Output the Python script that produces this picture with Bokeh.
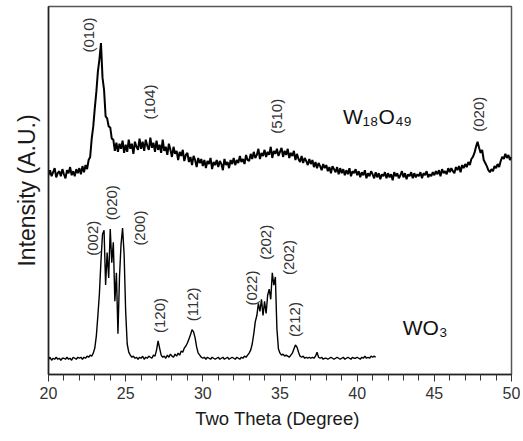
import numpy as np
from bokeh.plotting import figure
from bokeh.models import Range1d, FixedTicker, SingleIntervalTicker, ColumnDataSource, LabelSet
from bokeh.core.properties import value
from bokeh.embed import file_html
from bokeh.resources import INLINE

# ---- data (intensity in arbitrary units) ----
w18_start, w18_step = 20.0, 0.1
w18_y = [
    196, 201, 195, 199, 203, 194, 198, 200, 195, 202,
    197, 193, 201, 198, 204, 196, 200, 195, 202, 198,
    203, 197, 205, 199, 206, 202, 211, 214, 232, 244,
    262, 278, 298, 310, 326, 292, 280, 254, 252, 244,
    243, 232, 231, 220, 228, 219, 227, 222, 230, 218,
    226, 219, 231, 222, 227, 217, 229, 224, 221, 232,
    222, 229, 220, 231, 225, 221, 233, 223, 228, 219,
    230, 221, 226, 218, 231, 220, 224, 216, 227, 221,
    214, 224, 217, 220, 211, 219, 215, 221, 210, 216,
    218, 209, 214, 206, 215, 211, 204, 213, 208, 212,
    205, 211, 203, 210, 207, 213, 202, 209, 206, 211,
    204, 210, 207, 201, 212, 206, 209, 203, 211, 207,
    213, 206, 211, 208, 215, 209, 212, 207, 216, 211,
    210, 217, 212, 219, 213, 216, 222, 212, 218, 215,
    221, 214, 219, 216, 224, 213, 220, 217, 222, 215,
    219, 223, 214, 220, 216, 222, 213, 218, 215, 220,
    211, 217, 212, 209, 215, 208, 213, 210, 206, 212,
    207, 211, 204, 209, 203, 208, 205, 201, 207, 203,
    206, 200, 204, 198, 205, 202, 199, 204, 197, 203,
    198, 202, 196, 201, 197, 203, 195, 200, 198, 202,
    196, 200, 194, 199, 196, 201, 193, 198, 195, 200,
    197, 193, 199, 194, 198, 192, 197, 195, 199, 193,
    198, 194, 197, 191, 199, 195, 198, 193, 196, 200,
    194, 198, 192, 197, 195, 199, 193, 198, 194, 197,
    195, 199, 193, 198, 196, 200, 194, 197, 195, 199,
    196, 200, 197, 201, 195, 202, 198, 200, 197, 203,
    199, 203, 200, 198, 204, 201, 205, 199, 206, 203,
    207, 204, 209, 206, 212, 214, 218, 224, 229, 223,
    218, 221, 211, 208, 205, 201, 199, 202, 200, 205,
    203, 207, 204, 210, 214, 212, 217, 213, 216, 211,
    214,
]

wo3_start, wo3_step = 20.0, 0.1
wo3_y = [
    15, 17, 14, 16, 15, 17, 15, 16, 14, 16,
    16, 15, 17, 15, 16, 14, 17, 16, 15, 17,
    16, 17, 15, 17, 16, 18, 17, 19, 18, 21,
    26, 38, 58, 80, 112, 138, 142, 88, 120, 95,
    143, 110, 130, 72, 100, 40, 96, 128, 144, 118,
    62, 30, 22, 19, 17, 18, 16, 17, 15, 17,
    16, 18, 15, 17, 16, 18, 17, 16, 19, 18,
    24, 33, 26, 19, 17, 18, 16, 19, 17, 20,
    18, 17, 20, 18, 21, 19, 23, 22, 26, 28,
    31, 35, 39, 44, 42, 36, 27, 21, 19, 17,
    16, 17, 15, 17, 16, 15, 17, 16, 15, 16,
    17, 15, 16, 17, 15, 16, 17, 15, 16, 17,
    16, 15, 17, 16, 15, 17, 16, 18, 17, 19,
    21, 24, 30, 40, 52, 58, 70, 62, 74, 58,
    72, 60, 78, 84, 74, 100, 88, 96, 45, 25,
    21, 19, 20, 18, 19, 18, 17, 19, 21, 25,
    29, 27, 22, 18, 17, 18, 16, 17, 16, 17,
    16, 17, 16, 18, 22, 17, 16, 17, 15, 16,
    16, 15, 16, 17, 16, 15, 16, 17, 16, 15,
    16, 17, 15, 16, 17, 16, 15, 17, 16, 16,
    17, 16, 15, 17, 16, 18, 16, 17, 16, 18,
    17, 18, 17,
]

peak_labels = ["(010)", "(104)", "(510)", "(020)",
               "(002)", "(020)", "(200)", "(120)", "(112)",
               "(022)", "(202)", "(202)", "(212)"]
peak_x = [22.58, 26.57, 34.8, 47.88,
          22.87, 24.09, 25.89, 27.2, 29.34,
          33.13, 34.07, 35.52, 35.97]
peak_y = [334, 268, 254, 256,
          134, 169, 144, 58, 69,
          85, 130, 115, 54]

phase_labels = ["W\u2081\u2088O\u2084\u2089", "WO\u2083"]
phase_x = [41.31, 44.4]
phase_y = [254, 46]

# ---- figure ----
w18_x = np.round(w18_start + w18_step * np.arange(len(w18_y)), 2)
wo3_x = np.round(wo3_start + wo3_step * np.arange(len(wo3_y)), 2)

p = figure(width=520, height=431, x_range=Range1d(20, 50), y_range=Range1d(0, 362),
           output_backend="svg", toolbar_location=None,
           min_border_left=48, min_border_right=9, min_border_top=6, min_border_bottom=0)
p.grid.visible = False
p.outline_line_color = "#555555"
p.outline_line_width = 1.5
p.background_fill_color = "white"
p.border_fill_color = "white"

xa = p.xaxis[0]
xa.ticker = SingleIntervalTicker(interval=5, num_minor_ticks=5)
xa.major_tick_out = 7
xa.major_tick_in = 0
xa.minor_tick_out = 6
xa.minor_tick_in = 0
xa.axis_line_color = "#222222"
xa.axis_line_width = 1.5
xa.major_tick_line_color = "#333333"
xa.minor_tick_line_color = "#333333"
xa.major_label_text_font = "Liberation Sans"
xa.major_label_text_font_size = "16px"
xa.major_label_text_color = "#333333"
xa.major_label_standoff = 5
xa.axis_label = "Two  Theta (Degree)"
xa.axis_label_text_font = "Liberation Sans"
xa.axis_label_text_font_size = "18.5px"
xa.axis_label_text_font_style = "normal"
xa.axis_label_text_color = "#1a1a1a"
xa.axis_label_standoff = 6

ya = p.yaxis[0]
ya.ticker = FixedTicker(ticks=[], minor_ticks=[])
ya.major_tick_out = 0
ya.major_tick_in = 0
ya.minor_tick_out = 0
ya.minor_tick_in = 0
ya.axis_line_color = "#222222"
ya.axis_line_width = 1.5
ya.axis_label = "Intensity (A.U.)"
ya.axis_label_text_font = "Liberation Sans"
ya.axis_label_text_font_size = "23px"
ya.axis_label_text_font_style = "normal"
ya.axis_label_text_color = "#1a1a1a"
ya.axis_label_standoff = 9

p.line(w18_x, w18_y, line_color="black", line_width=2.0)
p.line(wo3_x, wo3_y, line_color="black", line_width=1.4)

lab_src = ColumnDataSource(dict(x=peak_x, y=peak_y, text=peak_labels))
labels = LabelSet(x="x", y="y", text="text", source=lab_src, angle=90, angle_units="deg",
                  text_align="center", text_baseline="middle",
                  text_font=value("Liberation Sans"), text_font_size="15px",
                  text_color="#333333")
p.add_layout(labels)

ph_src = ColumnDataSource(dict(x=phase_x, y=phase_y, text=phase_labels))
p.text(x="x", y="y", text="text", source=ph_src,
       text_align="center", text_baseline="middle",
       text_font=value("Liberation Sans"), text_font_size="21px", text_color="#111111")

open("out.html", "w").write(file_html(p, INLINE))
